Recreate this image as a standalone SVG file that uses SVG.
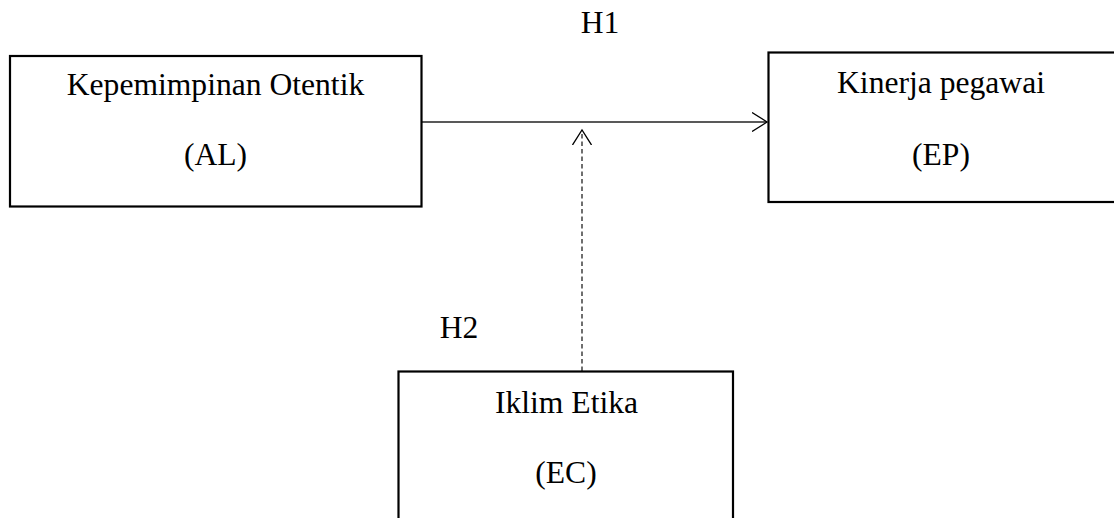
<svg xmlns="http://www.w3.org/2000/svg" width="1114" height="518" viewBox="0 0 1114 518">
<style>
.box{fill:#fff;stroke:#000;stroke-width:2.2}
.t{font-family:"Liberation Serif","Times New Roman",serif;font-size:31.6px;fill:#000;text-anchor:middle}
.line{stroke:#222;stroke-width:1.3;fill:none}
</style>
<defs>
<marker id="open" viewBox="0 0 20 20" refX="15" refY="10" markerWidth="20" markerHeight="20" markerUnits="userSpaceOnUse" orient="auto">
<path d="M0,0.5 L15,10 L0,19.5" fill="none" stroke="#000" stroke-width="1.3"/>
</marker>
</defs>
<g id="connectors">
<line class="line" x1="422" y1="122" x2="767" y2="122" marker-end="url(#open)"/>
<line class="line" x1="582" y1="371" x2="582" y2="130" stroke-dasharray="4.5,3" marker-end="url(#open)"/>
</g>
<g id="node-AL">
<rect class="box" x="10" y="56" width="411.5" height="150.5"/>
<text class="t" x="215.5" y="95">Kepemimpinan Otentik</text>
<text class="t" x="215.5" y="165">(AL)</text>
</g>
<g id="node-EP">
<rect class="box" x="768.5" y="52.5" width="360" height="149.5"/>
<text class="t" x="941" y="93">Kinerja pegawai</text>
<text class="t" x="941" y="165">(EP)</text>
</g>
<g id="node-EC">
<rect class="box" x="398.5" y="371.5" width="334.5" height="160"/>
<text class="t" x="566.5" y="413">Iklim Etika</text>
<text class="t" x="566" y="483">(EC)</text>
</g>
<g id="labels">
<text class="t" x="600" y="33">H1</text>
<text class="t" x="459" y="338">H2</text>
</g>
</svg>
